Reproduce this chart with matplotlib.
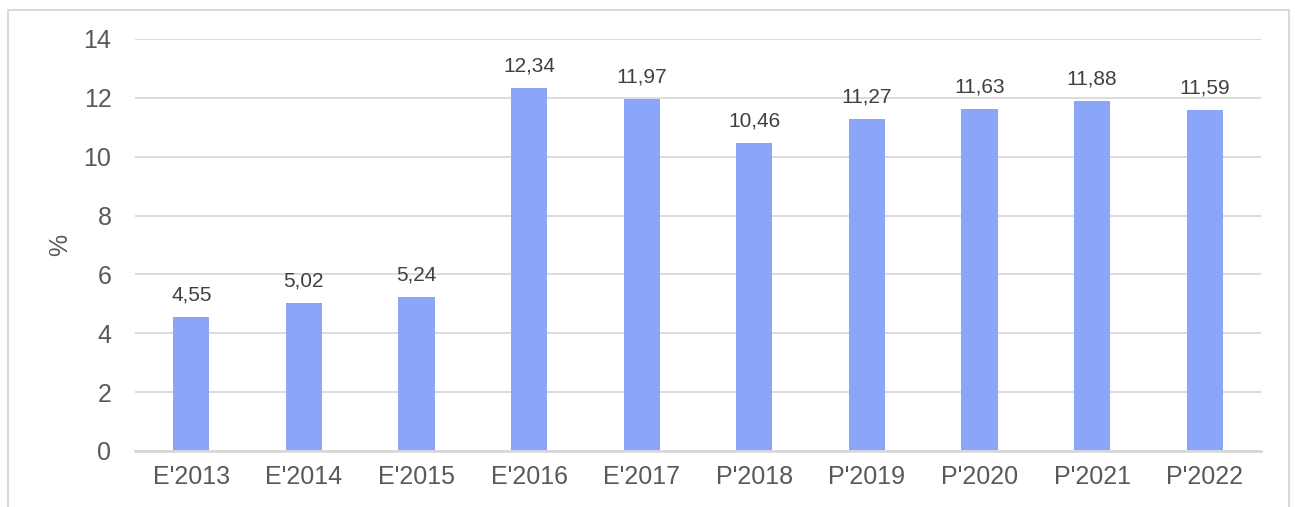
import matplotlib
matplotlib.use("Agg")
import matplotlib.pyplot as plt
from matplotlib.patches import Rectangle

categories = ["E'2013", "E'2014", "E'2015", "E'2016", "E'2017",
              "P'2018", "P'2019", "P'2020", "P'2021", "P'2022"]
values = [4.55, 5.02, 5.24, 12.34, 11.97, 10.46, 11.27, 11.63, 11.88, 11.59]
value_labels = ["4,55", "5,02", "5,24", "12,34", "11,97",
                "10,46", "11,27", "11,63", "11,88", "11,59"]
yticks = [0, 2, 4, 6, 8, 10, 12, 14]

plt.rcParams['font.family'] = ['Liberation Sans', 'DejaVu Sans']

fig = plt.figure(figsize=(12.95, 5.07), dpi=100)
ax = fig.add_axes([135/1295, 56/507, 1126/1295, (451-39)/507])

x = list(range(len(categories)))
ax.bar(x, values, width=0.32, color='#8AA5FA', zorder=3)
for xi, v, lab in zip(x, values, value_labels):
    ax.annotate(lab, (xi, v), xytext=(0, 12), textcoords='offset points',
                ha='center', va='baseline', fontsize=15, color='#404040')

ax.set_xlim(-0.5, len(categories) - 0.5)
ax.set_ylim(0, 14)
ax.set_yticks(yticks)
ax.set_xticks(x)
ax.set_xticklabels(categories)
ax.tick_params(axis='both', length=0, labelsize=18, labelcolor='#595959')
ax.tick_params(axis='y', pad=17)
ax.tick_params(axis='x', pad=10)
ax.grid(axis='y', color='#D9D9D9', linewidth=1.3, zorder=0)
for s in ['top', 'right', 'left']:
    ax.spines[s].set_visible(False)
ax.spines['bottom'].set_color('#D9D9D9')
ax.spines['bottom'].set_linewidth(2)
ax.spines['bottom'].set_zorder(4)
ax.set_ylabel('%', fontsize=18, color='#595959')
ax.yaxis.set_label_coords(-(135 - 72) / 1126, 0.5)

# outer border (bottom edge cut off)
fig.patches.append(Rectangle((8/1295, -0.1), (1289-8)/1295, 1.1 - 10/507,
                             transform=fig.transFigure, fill=False,
                             edgecolor='#D9D9D9', linewidth=1.5))

fig.savefig('out.png', dpi=100)
